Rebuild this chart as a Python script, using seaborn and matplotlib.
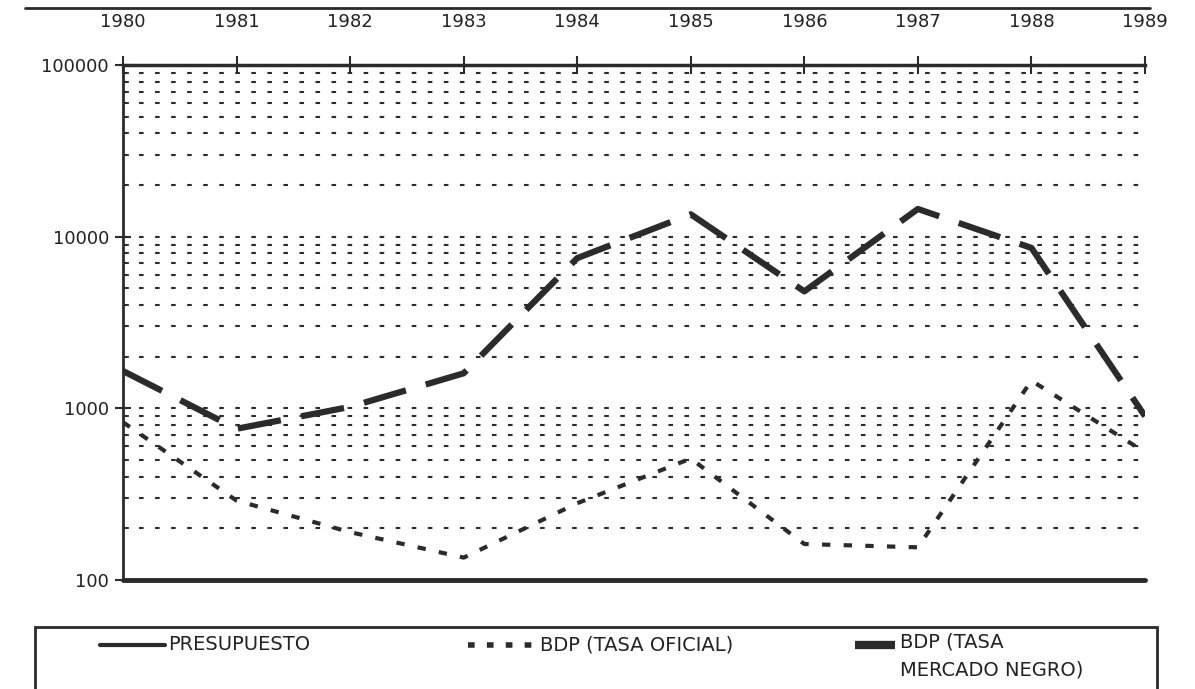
import matplotlib
matplotlib.use("Agg")
import matplotlib.pyplot as plt
from matplotlib.lines import Line2D
from matplotlib.patches import Rectangle
from matplotlib.ticker import FixedLocator, LogLocator, NullFormatter
import seaborn as sns
import pandas as pd

years = [1980, 1981, 1982, 1983, 1984, 1985, 1986, 1987, 1988, 1989]
presupuesto = [100, 100, 100, 100, 100, 100, 100, 100, 100, 100]
bdp_oficial = [830, 290, 190, 135, 280, 510, 162, 155, 1450, 555]
bdp_mercado_negro = [1650, 760, 1020, 1600, 7500, 13500, 4800, 14500, 8600, 900]
y_ticks = [100, 1000, 10000, 100000]
legend_labels = ["PRESUPUESTO", "BDP (TASA OFICIAL)", "BDP (TASA\nMERCADO NEGRO)"]

df = pd.DataFrame({"year": years, "pres": presupuesto,
                   "oficial": bdp_oficial, "negro": bdp_mercado_negro})

sns.set_theme(style="white")
plt.rcParams['font.family'] = ['DejaVu Sans']
ink = "#2b2b2b"

fig = plt.figure(figsize=(11.95, 6.89), dpi=100)
ax = fig.add_axes([123/1195, 1-580/689, (1145-123)/1195, (580-65)/689])

sns.lineplot(data=df, x="year", y="oficial", ax=ax, color=ink, lw=3.0,
             linestyle=(0, (2.0, 3.2)), legend=False, zorder=3)
sns.lineplot(data=df, x="year", y="negro", ax=ax, color=ink, lw=4.5,
             linestyle=(0, (7.0, 3.3)), legend=False, zorder=4)
sns.lineplot(data=df, x="year", y="pres", ax=ax, color=ink, lw=3.5,
             legend=False, zorder=5, clip_on=False)

ax.set_yscale("log")
ax.set_ylim(100, 100000)
ax.set_xlim(1980, 1989)
ax.yaxis.set_major_locator(FixedLocator(y_ticks))
ax.set_yticklabels([str(v) for v in y_ticks])
ax.yaxis.set_minor_locator(LogLocator(base=10, subs=range(2, 10)))
ax.yaxis.set_minor_formatter(NullFormatter())
ax.set_xticks(years)
ax.set_xticklabels([str(y) for y in years])
ax.xaxis.tick_top()
ax.set_xlabel("")
ax.set_ylabel("")

ax.grid(False)
ax.grid(True, which="both", axis="y", color=ink, lw=1.5,
        linestyle=(0, (2.2, 5.5)))
ax.set_axisbelow(True)

ax.spines["right"].set_visible(False)
ax.spines["bottom"].set_visible(False)
ax.spines["top"].set_linewidth(2.5)
ax.spines["left"].set_linewidth(2.0)
ax.spines["top"].set_color(ink)
ax.spines["left"].set_color(ink)

ax.tick_params(axis="x", which="major", direction="inout", length=13, width=1.5,
               colors=ink, labelsize=13, pad=18, top=True, bottom=False)
ax.tick_params(axis="y", which="major", direction="inout", length=12, width=1.5,
               colors=ink, labelsize=13, pad=4, left=True)
ax.tick_params(axis="y", which="minor", direction="in", length=4, width=1.2,
               colors=ink, left=True)
for lab in ax.get_xticklabels() + ax.get_yticklabels():
    lab.set_color("#222222")

# top rule (from cut-off header)
fig.add_artist(Line2D([25/1195, 1150/1195], [1-8/689, 1-8/689], color=ink, lw=2))

# legend box
fig.add_artist(Rectangle((35/1195, -0.05), (1157-35)/1195, 1-627/689+0.05,
                         fill=False, edgecolor=ink, lw=2))
ly = 1-645/689
fig.add_artist(Line2D([100/1195, 165/1195], [ly, ly], color=ink, lw=3))
fig.text(168/1195, ly, legend_labels[0], va="center", ha="left", fontsize=14, color="#222222")
fig.add_artist(Line2D([468/1195, 535/1195], [ly, ly], color=ink, lw=4,
                      linestyle=(0, (1.2, 2.2))))
fig.text(540/1195, ly, legend_labels[1], va="center", ha="left", fontsize=14, color="#222222")
fig.add_artist(Line2D([855/1195, 895/1195], [ly, ly], color=ink, lw=6,
                      solid_capstyle="butt"))
fig.text(900/1195, 1-632/689, legend_labels[2], va="top", ha="left", fontsize=14,
         color="#222222", linespacing=1.65)

fig.savefig("out.png", dpi=100, facecolor="white")
